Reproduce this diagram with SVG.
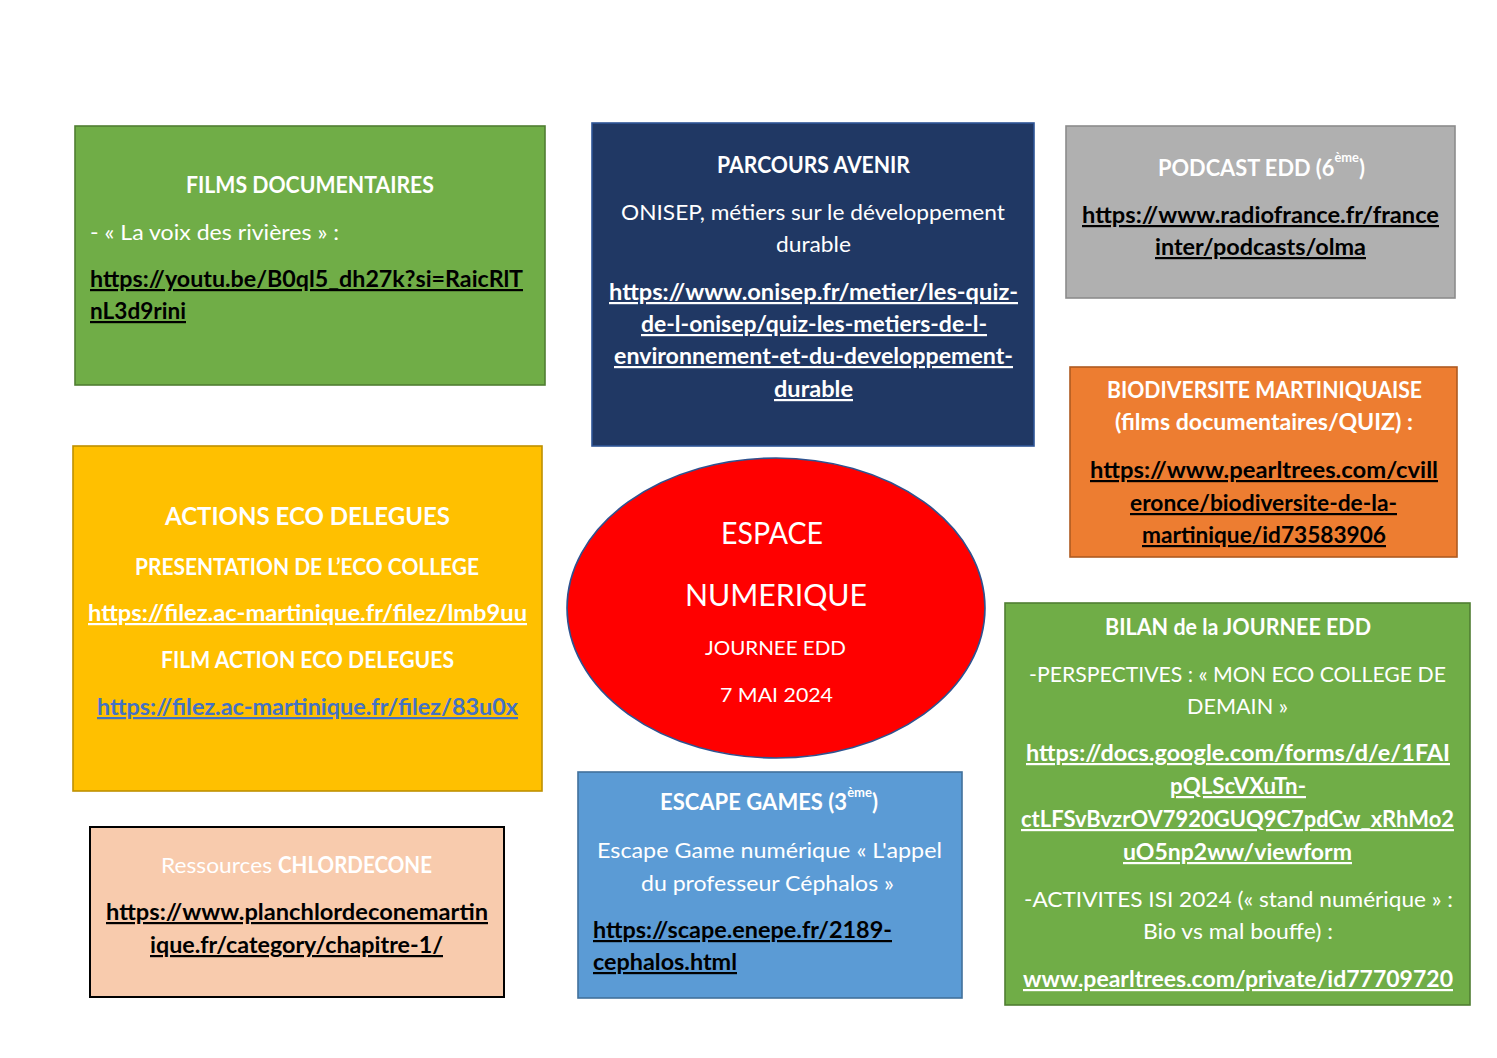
<svg xmlns="http://www.w3.org/2000/svg" width="1497" height="1058" viewBox="0 0 1497 1058">
<style>
text{font-family:Lato,"Open Sans","Liberation Sans",sans-serif;font-size:22px}
.b{font-weight:bold}
.w{fill:#FFFFFF}
.k{fill:#000000}
.u{text-decoration:underline}
.sup{font-size:13px}
.box{stroke-width:1.6}
</style>
<rect x="0" y="0" width="1497" height="1058" fill="#FFFFFF"/>
<g id="connectors"></g>

<g id="films">
<rect class="box" x="75" y="126" width="470" height="259" fill="#70AD47" stroke="#507E32"/>
<text class="b w" x="186" y="193" textLength="248" lengthAdjust="spacingAndGlyphs">FILMS DOCUMENTAIRES</text>
<text class="w" x="90" y="240" textLength="249" lengthAdjust="spacingAndGlyphs">- « La voix des rivières » :</text>
<text class="b k u" x="90" y="287" textLength="433" lengthAdjust="spacingAndGlyphs">https://youtu.be/B0ql5_dh27k?si=RaicRlT</text>
<text class="b k u" x="90" y="319" textLength="96" lengthAdjust="spacingAndGlyphs">nL3d9rini</text>
</g>

<g id="parcours">
<rect class="box" x="592" y="123" width="442" height="323" fill="#203864" stroke="#2F5597"/>
<text class="b w" x="717" y="173" textLength="193" lengthAdjust="spacingAndGlyphs">PARCOURS AVENIR</text>
<text class="w" x="621" y="220" textLength="384" lengthAdjust="spacingAndGlyphs">ONISEP, métiers sur le développement</text>
<text class="w" x="776" y="252" textLength="75" lengthAdjust="spacingAndGlyphs">durable</text>
<text class="b w u" x="609" y="300" textLength="409" lengthAdjust="spacingAndGlyphs">https://www.onisep.fr/metier/les-quiz-</text>
<text class="b w u" x="641" y="332" textLength="346" lengthAdjust="spacingAndGlyphs">de-l-onisep/quiz-les-metiers-de-l-</text>
<text class="b w u" x="614" y="364" textLength="399" lengthAdjust="spacingAndGlyphs">environnement-et-du-developpement-</text>
<text class="b w u" x="774" y="397" textLength="79" lengthAdjust="spacingAndGlyphs">durable</text>
</g>

<g id="podcast">
<rect class="box" x="1066" y="126" width="389" height="172" fill="#B0B0B0" stroke="#8C8C8C"/>
<text class="b w" x="1158" y="176" textLength="207" lengthAdjust="spacingAndGlyphs">PODCAST EDD (6<tspan class="sup" dy="-14">ème</tspan><tspan dy="14">)</tspan></text>
<text class="b k u" x="1082" y="223" textLength="357" lengthAdjust="spacingAndGlyphs">https://www.radiofrance.fr/france</text>
<text class="b k u" x="1155" y="255" textLength="211" lengthAdjust="spacingAndGlyphs">inter/podcasts/olma</text>
</g>

<g id="biodiversite">
<rect class="box" x="1070" y="367" width="387" height="190" fill="#ED7D31" stroke="#AE5A21"/>
<text class="b w" x="1107" y="398" textLength="315" lengthAdjust="spacingAndGlyphs">BIODIVERSITE MARTINIQUAISE</text>
<text class="b w" x="1115" y="430" textLength="298" lengthAdjust="spacingAndGlyphs">(films documentaires/QUIZ) :</text>
<text class="b k u" x="1090" y="478" textLength="348" lengthAdjust="spacingAndGlyphs">https://www.pearltrees.com/cvill</text>
<text class="b k u" x="1130" y="511" textLength="267" lengthAdjust="spacingAndGlyphs">eronce/biodiversite-de-la-</text>
<text class="b k u" x="1142" y="543" textLength="244" lengthAdjust="spacingAndGlyphs">martinique/id73583906</text>
</g>

<g id="actions">
<rect class="box" x="73" y="446" width="469" height="345" fill="#FFC000" stroke="#BF9000"/>
<text class="b w" x="165" y="525" textLength="285" lengthAdjust="spacingAndGlyphs" style="font-size:24px">ACTIONS ECO DELEGUES</text>
<text class="b w" x="135" y="575" textLength="344" lengthAdjust="spacingAndGlyphs">PRESENTATION DE L’ECO COLLEGE</text>
<text class="b w u" x="88" y="621" textLength="439" lengthAdjust="spacingAndGlyphs">https://filez.ac-martinique.fr/filez/lmb9uu</text>
<text class="b w" x="161" y="668" textLength="293" lengthAdjust="spacingAndGlyphs">FILM ACTION ECO DELEGUES</text>
<text class="b u" x="97" y="715" fill="#4472C4" textLength="421" lengthAdjust="spacingAndGlyphs">https://filez.ac-martinique.fr/filez/83u0x</text>
</g>

<g id="espace">
<ellipse cx="776" cy="608" rx="209" ry="150" fill="#FF0000" stroke="#2F528F" stroke-width="1.6"/>
<text class="w" x="721" y="544" textLength="102" lengthAdjust="spacingAndGlyphs" style="font-size:30px">ESPACE</text>
<text class="w" x="685" y="606" textLength="182" lengthAdjust="spacingAndGlyphs" style="font-size:30px">NUMERIQUE</text>
<text class="w" x="705" y="655" textLength="141" lengthAdjust="spacingAndGlyphs" style="font-size:19px">JOURNEE EDD</text>
<text class="w" x="720" y="702" textLength="113" lengthAdjust="spacingAndGlyphs" style="font-size:19px">7 MAI 2024</text>
</g>

<g id="chlordecone">
<rect x="90" y="827" width="414" height="170" fill="#F8CBAD" stroke="#000000" stroke-width="2"/>
<text class="w" x="161" y="873" textLength="111" lengthAdjust="spacingAndGlyphs">Ressources</text>
<text class="b w" x="278" y="873" textLength="154" lengthAdjust="spacingAndGlyphs">CHLORDECONE</text>
<text class="b k u" x="106" y="920" textLength="382" lengthAdjust="spacingAndGlyphs">https://www.planchlordeconemartin</text>
<text class="b k u" x="150" y="953" textLength="293" lengthAdjust="spacingAndGlyphs">ique.fr/category/chapitre-1/</text>
</g>

<g id="escape">
<rect class="box" x="578" y="772" width="384" height="226" fill="#5B9BD5" stroke="#41719C"/>
<text class="b w" x="660" y="810" textLength="218" lengthAdjust="spacingAndGlyphs">ESCAPE GAMES (3<tspan class="sup" dy="-13">ème</tspan><tspan dy="13">)</tspan></text>
<text class="w" x="597" y="858" textLength="345" lengthAdjust="spacingAndGlyphs">Escape Game numérique « L'appel</text>
<text class="w" x="641" y="891" textLength="253" lengthAdjust="spacingAndGlyphs">du professeur Céphalos »</text>
<text class="b k u" x="593" y="938" textLength="299" lengthAdjust="spacingAndGlyphs">https://scape.enepe.fr/2189-</text>
<text class="b k u" x="593" y="970" textLength="144" lengthAdjust="spacingAndGlyphs">cephalos.html</text>
</g>

<g id="bilan">
<rect class="box" x="1005" y="603" width="465" height="402" fill="#70AD47" stroke="#507E32"/>
<text class="b w" x="1105" y="635" textLength="266" lengthAdjust="spacingAndGlyphs">BILAN de la JOURNEE EDD</text>
<text class="w" x="1029" y="682" textLength="417" lengthAdjust="spacingAndGlyphs">-PERSPECTIVES : « MON ECO COLLEGE DE</text>
<text class="w" x="1187" y="714" textLength="101" lengthAdjust="spacingAndGlyphs">DEMAIN »</text>
<text class="b w u" x="1026" y="761" textLength="424" lengthAdjust="spacingAndGlyphs">https://docs.google.com/forms/d/e/1FAI</text>
<text class="b w u" x="1170" y="794" textLength="136" lengthAdjust="spacingAndGlyphs">pQLScVXuTn-</text>
<text class="b w u" x="1021" y="827" textLength="433" lengthAdjust="spacingAndGlyphs">ctLFSvBvzrOV7920GUQ9C7pdCw_xRhMo2</text>
<text class="b w u" x="1123" y="860" textLength="229" lengthAdjust="spacingAndGlyphs">uO5np2ww/viewform</text>
<text class="w" x="1024" y="907" textLength="429" lengthAdjust="spacingAndGlyphs">-ACTIVITES ISI 2024 (« stand numérique » :</text>
<text class="w" x="1143" y="939" textLength="190" lengthAdjust="spacingAndGlyphs">Bio vs mal bouffe) :</text>
<text class="b w u" x="1023" y="987" textLength="430" lengthAdjust="spacingAndGlyphs">www.pearltrees.com/private/id77709720</text>
</g>
</svg>
